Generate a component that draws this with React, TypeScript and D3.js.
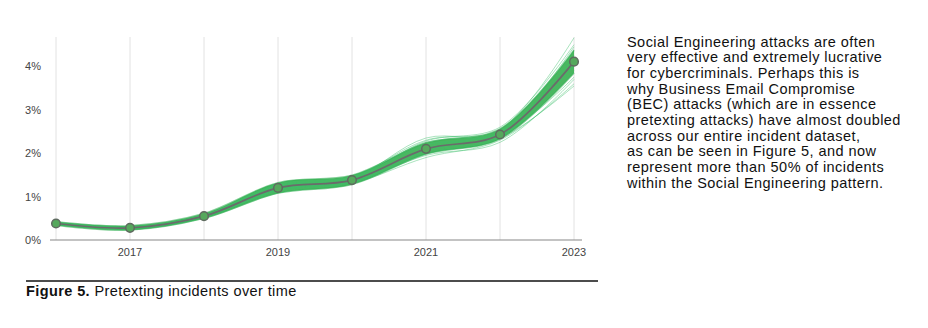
import React from "react";
import * as d3 from "d3";

const years = [2016, 2017, 2018, 2019, 2020, 2021, 2022, 2023];
const xTickLabels = ["2017", "2019", "2021", "2023"];
const yTicks = [0, 1, 2, 3, 4];
const meanValues = [0.38, 0.28, 0.55, 1.2, 1.38, 2.1, 2.43, 4.11];
const bandLower = [0.34, 0.23, 0.5, 1.08, 1.28, 1.98, 2.33, 3.85];
const bandUpper = [0.42, 0.33, 0.61, 1.32, 1.49, 2.24, 2.56, 4.38];
const sampleLines = [
  [0.4, 0.3, 0.57, 1.28, 1.45, 2.25, 2.5, 4.45],
  [0.36, 0.25, 0.52, 1.12, 1.32, 1.98, 2.36, 3.9],
  [0.39, 0.29, 0.56, 1.24, 1.4, 2.18, 2.48, 4.25],
  [0.37, 0.27, 0.54, 1.16, 1.35, 2.04, 2.4, 4.0],
  [0.41, 0.31, 0.58, 1.3, 1.47, 2.3, 2.55, 4.66],
  [0.35, 0.24, 0.5, 1.08, 1.3, 1.9, 2.3, 3.6],
  [0.38, 0.28, 0.55, 1.22, 1.42, 2.35, 2.42, 3.75],
  [0.38, 0.27, 0.53, 1.14, 1.33, 1.95, 2.25, 3.7],
  [0.39, 0.29, 0.56, 1.26, 1.37, 2.12, 2.52, 4.35],
  [0.37, 0.28, 0.55, 1.18, 1.36, 2.08, 2.44, 4.15],
  [0.4, 0.3, 0.58, 1.25, 1.44, 2.2, 2.38, 4.05],
  [0.36, 0.26, 0.53, 1.15, 1.39, 2.06, 2.47, 4.2],
  [0.38, 0.28, 0.55, 1.2, 1.41, 2.28, 2.6, 4.5],
  [0.37, 0.27, 0.54, 1.17, 1.34, 2.0, 2.34, 3.55],
];
const bodyText = [
  "Social Engineering attacks are often",
  "very effective and extremely lucrative",
  "for cybercriminals. Perhaps this is",
  "why Business Email Compromise",
  "(BEC) attacks (which are in essence",
  "pretexting attacks) have almost doubled",
  "across our entire incident dataset,",
  "as can be seen in Figure 5, and now",
  "represent more than 50% of incidents",
  "within the Social Engineering pattern.",
];
const captionBold = "Figure 5.";
const captionText = " Pretexting incidents over time";

export default function App() {
  const x = d3.scaleLinear().domain([2016, 2023]).range([56, 574]);
  const y = d3.scaleLinear().domain([0, 4]).range([240, 66.4]);
  const curve = d3.curveCatmullRom.alpha(0.5);
  const line = d3
    .line<number>()
    .x((_, i) => x(years[i]))
    .y((d) => y(d))
    .curve(curve);
  const area = d3
    .area<number>()
    .x((_, i) => x(years[i]))
    .y0((_, i) => y(bandLower[i]))
    .y1((_, i) => y(bandUpper[i]))
    .curve(curve);
  const font = "'Liberation Sans', Arial, sans-serif";
  return (
    <svg
      width={928}
      height={328}
      style={{ position: "absolute", left: 0, top: 0, background: "#fff" }}
      fontFamily={font}
    >
      {years.map((yr) => (
        <line key={yr} x1={x(yr)} x2={x(yr)} y1={37} y2={240} stroke="#e2e2e2" strokeWidth={1} />
      ))}
      {yTicks.map((t) => (
        <text key={t} x={41} y={y(t) + 4} textAnchor="end" fontSize={11} fill="#444">
          {t + "%"}
        </text>
      ))}
      <line x1={50} x2={582} y1={240} y2={240} stroke="#888" strokeWidth={1.2} />
      {xTickLabels.map((t) => (
        <text key={t} x={x(+t)} y={256} textAnchor="middle" fontSize={11} fill="#444">
          {t}
        </text>
      ))}
      <path d={area(meanValues) || ""} fill="#38ae4e" opacity={0.9} />
      {sampleLines.map((s, i) => (
        <path key={i} d={line(s) || ""} fill="none" stroke="#3cbf6a" strokeWidth={0.8} opacity={0.55} />
      ))}
      <path d={line(bandLower) || ""} fill="none" stroke="#33b055" strokeWidth={1.5} opacity={0.6} />
      <path d={line(bandUpper) || ""} fill="none" stroke="#33b055" strokeWidth={1.5} opacity={0.6} />
      <path d={line(meanValues) || ""} fill="none" stroke="#6b6b6b" strokeWidth={1.7} />
      {meanValues.map((v, i) => (
        <circle key={i} cx={x(years[i])} cy={y(v)} r={4.3} fill="#55a85c" stroke="#5f6b60" strokeWidth={1.5} />
      ))}
      <line x1={26} x2={598} y1={281} y2={281} stroke="#111" strokeWidth={1.5} />
      <text x={26} y={296} fontSize={14.5} fill="#111" letterSpacing={0.4}>
        <tspan fontWeight="bold">{captionBold}</tspan>
        <tspan>{captionText}</tspan>
      </text>
      {bodyText.map((l, i) => (
        <text key={i} x={627} y={46.5 + i * 15.67} fontSize={14.5} fill="#111" letterSpacing={0.45}>
          {l}
        </text>
      ))}
    </svg>
  );
}
